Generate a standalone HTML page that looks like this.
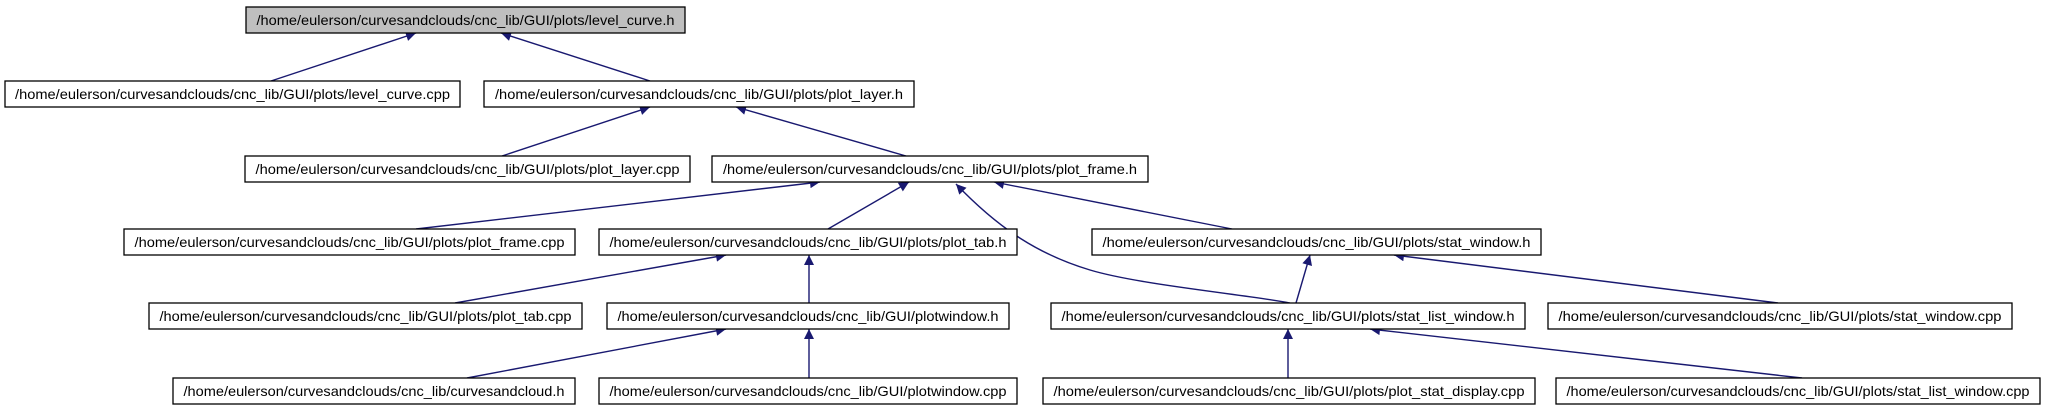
<!DOCTYPE html>
<html><head><meta charset="utf-8"><style>
html,body{margin:0;padding:0;background:#fff;width:2050px;height:411px;overflow:hidden}
text{font-family:"Liberation Sans",sans-serif;font-size:14px;fill:#000}
</style></head><body>
<svg width="2050" height="411" viewBox="0 0 2050 411" xmlns="http://www.w3.org/2000/svg">
<defs><marker id="a" viewBox="0 0 10 10" refX="10" refY="5" markerWidth="13" markerHeight="10" markerUnits="userSpaceOnUse" orient="auto"><path d="M0,0 L10,5 L0,10 z" fill="#191970"/></marker></defs>
<g stroke="#191970" stroke-width="1.4" fill="none" marker-end="url(#a)">
<path d="M271,81 L416,33"/>
<path d="M650,81 L501,33"/>
<path d="M502,156 L650,107"/>
<path d="M906,156 L736,107"/>
<path d="M416,229 L820,182"/>
<path d="M828,229 L909,182"/>
<path d="M1290,303 C1250,295 1140,285 1090,270 C1040,255 1000,230 956,184"/>
<path d="M1232,229 L994,182"/>
<path d="M455,303 L726,255"/>
<path d="M809,303 L809,255"/>
<path d="M1296,303 L1310,255"/>
<path d="M1778,303 L1394,255"/>
<path d="M467,378 L726,329"/>
<path d="M809,378 L809,329"/>
<path d="M1288,378 L1288,329"/>
<path d="M1802,378 L1370,329"/>
</g>
<g stroke="#000" stroke-width="1.3">
<rect x="246" y="7" width="439" height="26" fill="#bfbfbf"/>
<rect x="5" y="81" width="455" height="26" fill="#fff"/>
<rect x="484" y="81" width="430" height="26" fill="#fff"/>
<rect x="245" y="156" width="445" height="26" fill="#fff"/>
<rect x="712" y="156" width="436" height="26" fill="#fff"/>
<rect x="124" y="229" width="451" height="26" fill="#fff"/>
<rect x="599" y="229" width="418" height="26" fill="#fff"/>
<rect x="1092" y="229" width="449" height="26" fill="#fff"/>
<rect x="149" y="303" width="433" height="26" fill="#fff"/>
<rect x="607" y="303" width="402" height="26" fill="#fff"/>
<rect x="1051" y="303" width="474" height="26" fill="#fff"/>
<rect x="1548" y="303" width="464" height="26" fill="#fff"/>
<rect x="173" y="378" width="402" height="26" fill="#fff"/>
<rect x="599" y="378" width="418" height="26" fill="#fff"/>
<rect x="1043" y="378" width="492" height="26" fill="#fff"/>
<rect x="1556" y="378" width="484" height="26" fill="#fff"/>
</g>
<g text-anchor="middle">
<text x="465.5" y="25" textLength="418" lengthAdjust="spacingAndGlyphs">/home/eulerson/curvesandclouds/cnc_lib/GUI/plots/level_curve.h</text>
<text x="232.5" y="99" textLength="435" lengthAdjust="spacingAndGlyphs">/home/eulerson/curvesandclouds/cnc_lib/GUI/plots/level_curve.cpp</text>
<text x="699" y="99" textLength="408" lengthAdjust="spacingAndGlyphs">/home/eulerson/curvesandclouds/cnc_lib/GUI/plots/plot_layer.h</text>
<text x="467.5" y="174" textLength="424" lengthAdjust="spacingAndGlyphs">/home/eulerson/curvesandclouds/cnc_lib/GUI/plots/plot_layer.cpp</text>
<text x="930" y="174" textLength="414" lengthAdjust="spacingAndGlyphs">/home/eulerson/curvesandclouds/cnc_lib/GUI/plots/plot_frame.h</text>
<text x="349.5" y="247" textLength="430" lengthAdjust="spacingAndGlyphs">/home/eulerson/curvesandclouds/cnc_lib/GUI/plots/plot_frame.cpp</text>
<text x="808" y="247" textLength="397" lengthAdjust="spacingAndGlyphs">/home/eulerson/curvesandclouds/cnc_lib/GUI/plots/plot_tab.h</text>
<text x="1316.5" y="247" textLength="428" lengthAdjust="spacingAndGlyphs">/home/eulerson/curvesandclouds/cnc_lib/GUI/plots/stat_window.h</text>
<text x="365.5" y="321" textLength="412" lengthAdjust="spacingAndGlyphs">/home/eulerson/curvesandclouds/cnc_lib/GUI/plots/plot_tab.cpp</text>
<text x="808" y="321" textLength="381" lengthAdjust="spacingAndGlyphs">/home/eulerson/curvesandclouds/cnc_lib/GUI/plotwindow.h</text>
<text x="1288" y="321" textLength="453" lengthAdjust="spacingAndGlyphs">/home/eulerson/curvesandclouds/cnc_lib/GUI/plots/stat_list_window.h</text>
<text x="1780" y="321" textLength="443" lengthAdjust="spacingAndGlyphs">/home/eulerson/curvesandclouds/cnc_lib/GUI/plots/stat_window.cpp</text>
<text x="374" y="396" textLength="381" lengthAdjust="spacingAndGlyphs">/home/eulerson/curvesandclouds/cnc_lib/curvesandcloud.h</text>
<text x="808" y="396" textLength="397" lengthAdjust="spacingAndGlyphs">/home/eulerson/curvesandclouds/cnc_lib/GUI/plotwindow.cpp</text>
<text x="1289" y="396" textLength="471" lengthAdjust="spacingAndGlyphs">/home/eulerson/curvesandclouds/cnc_lib/GUI/plots/plot_stat_display.cpp</text>
<text x="1798" y="396" textLength="463" lengthAdjust="spacingAndGlyphs">/home/eulerson/curvesandclouds/cnc_lib/GUI/plots/stat_list_window.cpp</text>
</g>
</svg>
</body></html>
